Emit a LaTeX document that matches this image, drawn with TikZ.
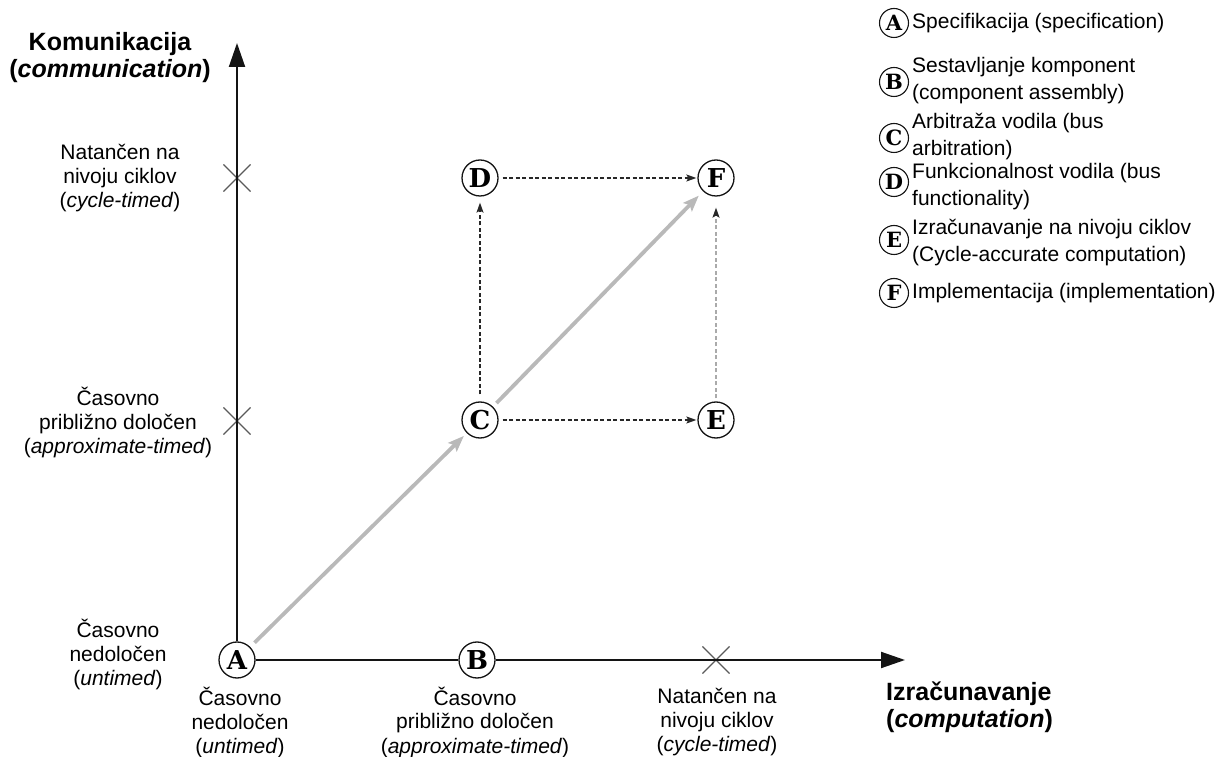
\documentclass[tikz,border=0pt]{standalone}
\usepackage{fontspec}
\newfontfamily\sansfnt{Liberation Sans}
\newfontfamily\letterfnt{DejaVu Serif}
\usetikzlibrary{arrows.meta,shapes.misc}

\definecolor{axisc}{RGB}{20,20,20}
\definecolor{progray}{RGB}{185,185,185}
\definecolor{dashc}{RGB}{40,40,40}
\definecolor{lightdash}{RGB}{170,170,170}
\definecolor{crossc}{RGB}{90,90,90}

\begin{document}
\begin{tikzpicture}[x=1pt,y=1pt,
  lbl/.style={font=\sansfnt\fontsize{21}{24}\selectfont, align=center, inner sep=0pt},
  ttl/.style={font=\sansfnt\bfseries\fontsize{25}{27}\selectfont, align=left, inner sep=0pt},
  stage/.style={circle, draw=axisc, line width=1.3pt, fill=white, minimum size=36pt,
    inner sep=0pt, font=\letterfnt\bfseries\fontsize{26}{26}\selectfont},
  keycirc/.style={stage, minimum size=29pt, line width=1.1pt,
    font=\letterfnt\bfseries\fontsize{21}{21}\selectfont},
  keytxt/.style={font=\sansfnt\fontsize{21}{27}\selectfont, align=left, anchor=west, inner sep=0pt},
  tick/.style={cross out, draw=crossc, line width=1.1pt, minimum size=26pt, inner sep=0pt},
  axisline/.style={draw=axisc, line width=2pt},
  axis/.style={axisline, -{Triangle[length=24pt,width=16pt]}},
  prog/.style={draw=progray, line width=3.8pt, -{Stealth[length=16pt,width=12pt,inset=3pt]}},
  flow/.style={draw=dashc, line width=1.2pt, dash pattern=on 4pt off 2.5pt,
    -{Stealth[length=10pt,width=7pt,inset=2pt]}}
]
\useasboundingbox (0,0) rectangle (1224,756);

% axis ends
\coordinate (ytip) at (237,713);
\coordinate (xtip) at (905,96);

% level marks on the axes
\node[tick] (mcy) at (237,578) {};
\node[tick] (may) at (237,335) {};
\node[tick] (mcx) at (716,96) {};

% design stages
\node[stage] (A) at (237,96) {A};
\node[stage] (B) at (477,96) {B};
\node[stage] (C) at (480,336) {C};
\node[stage] (D) at (480,578) {D};
\node[stage] (E) at (716,336) {E};
\node[stage] (F) at (716,578) {F};

% axes
\draw[axis] (A) -- (ytip);
\draw[axisline] (A) -- (B);
\draw[axis] (B) -- (xtip);

% refinement paths
\draw[prog, shorten <=6pt, shorten >=4pt] (A) -- (C);
\draw[prog, shorten <=5pt, shorten >=6pt] (C) -- (F);
\draw[flow, shorten <=7pt, shorten >=6pt] (C) -- (D);
\draw[flow, shorten <=4pt, shorten >=1pt] (D) -- (F);
\draw[flow, shorten <=4pt, shorten >=1pt] (C) -- (E);
\draw[flow, draw=lightdash, -{Stealth[length=10pt,width=7pt,inset=2pt,color=dashc]},
  shorten <=3pt, shorten >=11pt] (E) -- (F);

% axis titles
\node[ttl, align=center] (commlbl) at (110,698) {Komunikacija\\(\textit{communication})};
\node[ttl, anchor=west] (complbl) at (886,49) {Izračunavanje\\(\textit{computation})};

% communication levels
\node[lbl] (ycyc) at (120,578) {Natančen na\\nivoju ciklov\\(\textit{cycle-timed})};
\node[lbl] (yapp) at (118,333) {Časovno\\približno določen\\(\textit{approximate-timed})};
\node[lbl] (yunt) at (118,102) {Časovno\\nedoločen\\(\textit{untimed})};

% computation levels
\node[lbl] (xunt) at (240,34) {Časovno\\nedoločen\\(\textit{untimed})};
\node[lbl] (xapp) at (475,34) {Časovno\\približno določen\\(\textit{approximate-timed})};
\node[lbl] (xcyc) at (717,34) {Natančen na\\nivoju ciklov\\(\textit{cycle-timed})};

% legend
\node[keycirc] (kA) at (894,733) {A};
\node[keycirc] (kB) at (894,674) {B};
\node[keycirc] (kC) at (894,618) {C};
\node[keycirc] (kD) at (894,574) {D};
\node[keycirc] (kE) at (894,516) {E};
\node[keycirc] (kF) at (894,463) {F};
\node[keytxt] (tA) at (912,733) {Specifikacija (specification)};
\node[keytxt] (tB) at (912,675) {Sestavljanje komponent\\(component assembly)};
\node[keytxt] (tC) at (912,619) {Arbitraža vodila (bus\\arbitration)};
\node[keytxt] (tD) at (912,569) {Funkcionalnost vodila (bus\\functionality)};
\node[keytxt] (tE) at (912,513) {Izračunavanje na nivoju ciklov\\(Cycle-accurate computation)};
\node[keytxt] (tF) at (912,463) {Implementacija (implementation)};
\end{tikzpicture}
\end{document}
